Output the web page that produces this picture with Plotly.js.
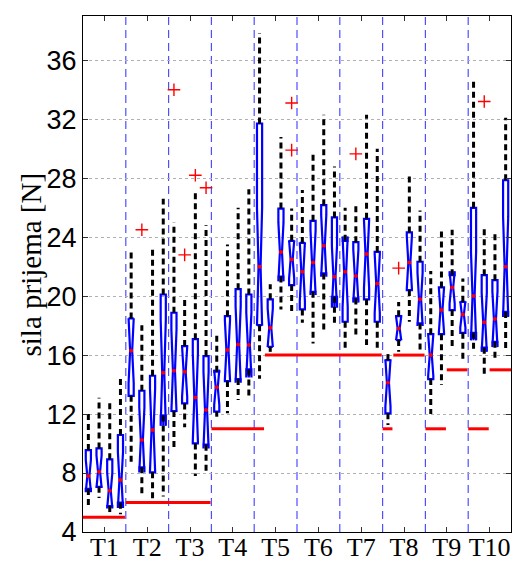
<!DOCTYPE html>
<html>
<head>
<meta charset="utf-8">
<script src="https://cdn.plot.ly/plotly-3.0.1.min.js"></script>
<style>html,body{margin:0;padding:0;background:#fff;}#chart{width:515px;height:563px;}</style>
</head>
<body>
<div id="chart"></div>
<script>
// ---- data ----
const groupLabels = ['T1','T2','T3','T4','T5','T6','T7','T8','T9','T10'];
const groupTicks = [2.5, 6.5, 10.5, 14.5, 18.5, 22.5, 26.5, 30.5, 34.5, 38.5];
const separators = [4.5, 8.5, 12.5, 16.5, 20.5, 24.5, 28.5, 32.5, 36.5];
const yTicks = [4, 8, 12, 16, 20, 24, 28, 32, 36];
const yTitle = 'sila prijema [N]';
const boxPositions = [1,2,3,4,5,6,7,8,9,10,11,12,13,14,15,16,17,18,19,20,
                      21,22,23,24,25,26,27,28,29,30,31,32,33,34,35,36,37,38,39,40];
const whiskerHigh = [12.05,13.1,12.85,14.6, 23.0,18.03,23.4,26.6, 25.0,19.95,27.25,24.8,
                     17.55,23.5,26.0,27.25, 37.85,20.8,30.8,25.95, 27.2,29.8,32.3,28.8,
                     26.0,26.3,32.3,30.0, 16.1,19.6,28.2,25.8, 21.7,24.4,24.5,21.2,
                     34.6,24.75,24.3,32.1];
const q3 = [9.56,9.67,8.93,10.58, 18.49,13.58,14.6,20.11, 18.87,16.61,17.08,15.93,
            14.87,18.64,20.47,20.11, 31.71,19.78,25.94,23.75, 23.61,25.11,26.17,25.34,
            23.75,23.66,25.24,23.0, 15.66,18.64,24.32,22.33, 17.42,20.59,21.42,19.61,
            25.99,21.42,21.08,27.86];
const median = [7.8,8.09,6.8,7.53, 16.3,10.24,10.92,14.8, 14.94,14.87,13.13,12.27,
                13.81,16.34,16.72,16.68, 21.99,17.85,23.0,22.49, 21.65,22.28,23.41,21.31,
                21.65,21.36,22.85,20.86, 14.12,17.81,22.28,19.78, 16.0,19.05,20.59,18.76,
                20.0,18.22,18.44,21.99];
const q1 = [6.92,7.07,5.76,5.99, 13.24,8.39,8.05,11.9, 12.2,12.72,10.01,9.92,
            12.16,14.24,14.37,15.03, 18.03,16.56,21.33,20.75, 19.1,20.29,21.54,19.95,
            18.26,19.84,19.78,18.26, 12.05,17.02,20.41,18.15, 14.37,17.42,19.05,17.51,
            17.51,16.5,16.9,18.93];
const whiskerLow = [5.6,6.3,5.15,5.2, 8.55,6.55,6.25,6.4, 9.5,11.1,7.8,8.09,
                    11.82,12.05,12.95,13.17, 14.4,16.22,19.1,18.83, 18.19,16.79,17.74,18.15,
                    16.34,17.13,16.68,16.34, 11.25,16.22,18.26,16.15, 12.0,13.97,16.61,15.66,
                    16.16,14.58,15.66,16.22];
const notchSpan = [1.1,1.1,1.2,1.9, 2.2,2.2,2.8,3.6, 2.8,1.7,3.0,2.6,
                   1.2,2.0,2.6,2.2, 4.0,1.3,2.0,1.3, 2.0,2.2,2.1,2.1,
                   2.4,1.8,2.3,2.0, 1.6,0.8,1.8,1.8, 1.4,1.5,1.1,0.9,
                   3.0,2.0,1.9,3.4];
const outlierBox = [6, 9, 10, 11, 12, 20, 20, 26, 30, 38];
const outlierValue = [24.5, 34.0, 22.8, 28.2, 27.35, 33.1, 29.9, 29.65, 21.9, 33.2];
const referenceLevel = [5,5,5,5, 6,6,6,6,6,6,6,6, 11,11,11,11,11,
                        16,16,16,16,16,16,16,16,16,16,16, 11, 16,16,16,
                        11,11, 15,15, 11,11, 15,15];

// ---- traces ----
const boxTrace = {
  type: 'box',
  x: boxPositions,
  q1: q1, median: median, q3: q3,
  lowerfence: q1, upperfence: q3,
  notchspan: notchSpan,
  notched: true,
  notchwidth: 0.3,
  width: 0.48,
  whiskerwidth: 0,
  boxpoints: false,
  line: {color: '#0000ff', width: 2.2},
  fillcolor: 'rgba(255,255,255,0)',
  hoverinfo: 'skip',
  showlegend: false
};

const wx = [], wy = [];
boxPositions.forEach((p, i) => {
  wx.push(p, p, null, p, p, null);
  wy.push(q3[i], whiskerHigh[i], null, q1[i], whiskerLow[i], null);
});
const whiskerTrace = {
  type: 'scatter', mode: 'lines', x: wx, y: wy,
  line: {color: '#000000', width: 3, dash: '6px,4px'},
  hoverinfo: 'skip', showlegend: false
};

const medianTrace = {
  type: 'scatter', mode: 'markers', x: boxPositions, y: median,
  marker: {color: '#ff0000', size: 4},
  hoverinfo: 'skip', showlegend: false
};

const outlierTrace = {
  type: 'scatter', mode: 'markers', x: outlierBox, y: outlierValue,
  marker: {symbol: 'cross-thin', size: 9, line: {color: '#ff0000', width: 1.4}},
  hoverinfo: 'skip', showlegend: false
};

// reference level segments: merge runs of equal level
const rx = [], ry = [];
let start = 0;
for (let i = 1; i <= referenceLevel.length; i++) {
  if (i === referenceLevel.length || referenceLevel[i] !== referenceLevel[start]) {
    const endPad = (i === referenceLevel.length) ? 0.5 : 0.42;
    rx.push(boxPositions[start] - 0.5, boxPositions[i - 1] + endPad, null);
    ry.push(referenceLevel[start], referenceLevel[start], null);
    start = i;
  }
}
const refTrace = {
  type: 'scatter', mode: 'lines', x: rx, y: ry,
  line: {color: '#ff0000', width: 3},
  hoverinfo: 'skip', showlegend: false
};

const shapes = separators.map(s => ({
  type: 'line', xref: 'x', yref: 'paper', x0: s, x1: s, y0: 0, y1: 1,
  line: {color: '#4f4fff', width: 1.2, dash: '8px,5px'}, layer: 'below'
}));

const layout = {
  width: 515, height: 563,
  margin: {l: 83, r: 4, t: 16, b: 31},
  paper_bgcolor: '#ffffff', plot_bgcolor: '#ffffff',
  showlegend: false,
  boxmode: 'overlay',
  xaxis: {
    range: [0.5, 40.5],
    tickvals: groupTicks, ticktext: groupLabels,
    ticks: 'inside', ticklen: 5, tickcolor: '#333',
    ticklabelstandoff: -8,
    showline: true, linecolor: '#000', linewidth: 1, mirror: 'ticks',
    showgrid: false, zeroline: false,
    tickfont: {family: 'Liberation Serif', size: 26, color: '#000'}
  },
  yaxis: {
    range: [4, 39],
    tickvals: yTicks,
    ticks: 'inside', ticklen: 5, tickcolor: '#333',
    showline: true, linecolor: '#000', linewidth: 1, mirror: 'ticks',
    showgrid: true, gridcolor: '#b0b0b0', gridwidth: 1, griddash: 'dot',
    zeroline: false,
    tickfont: {family: 'Liberation Sans', size: 27, color: '#000'}
  },
  annotations: [{
    text: yTitle, textangle: -90, showarrow: false,
    xref: 'paper', yref: 'paper', x: -0.122, y: 0.518,
    xanchor: 'center', yanchor: 'middle',
    font: {family: 'Liberation Serif', size: 29, color: '#000'}
  }],
  shapes: shapes
};

Plotly.newPlot('chart', [boxTrace, whiskerTrace, refTrace, medianTrace, outlierTrace], layout, {staticPlot: true});
</script>
</body>
</html>
